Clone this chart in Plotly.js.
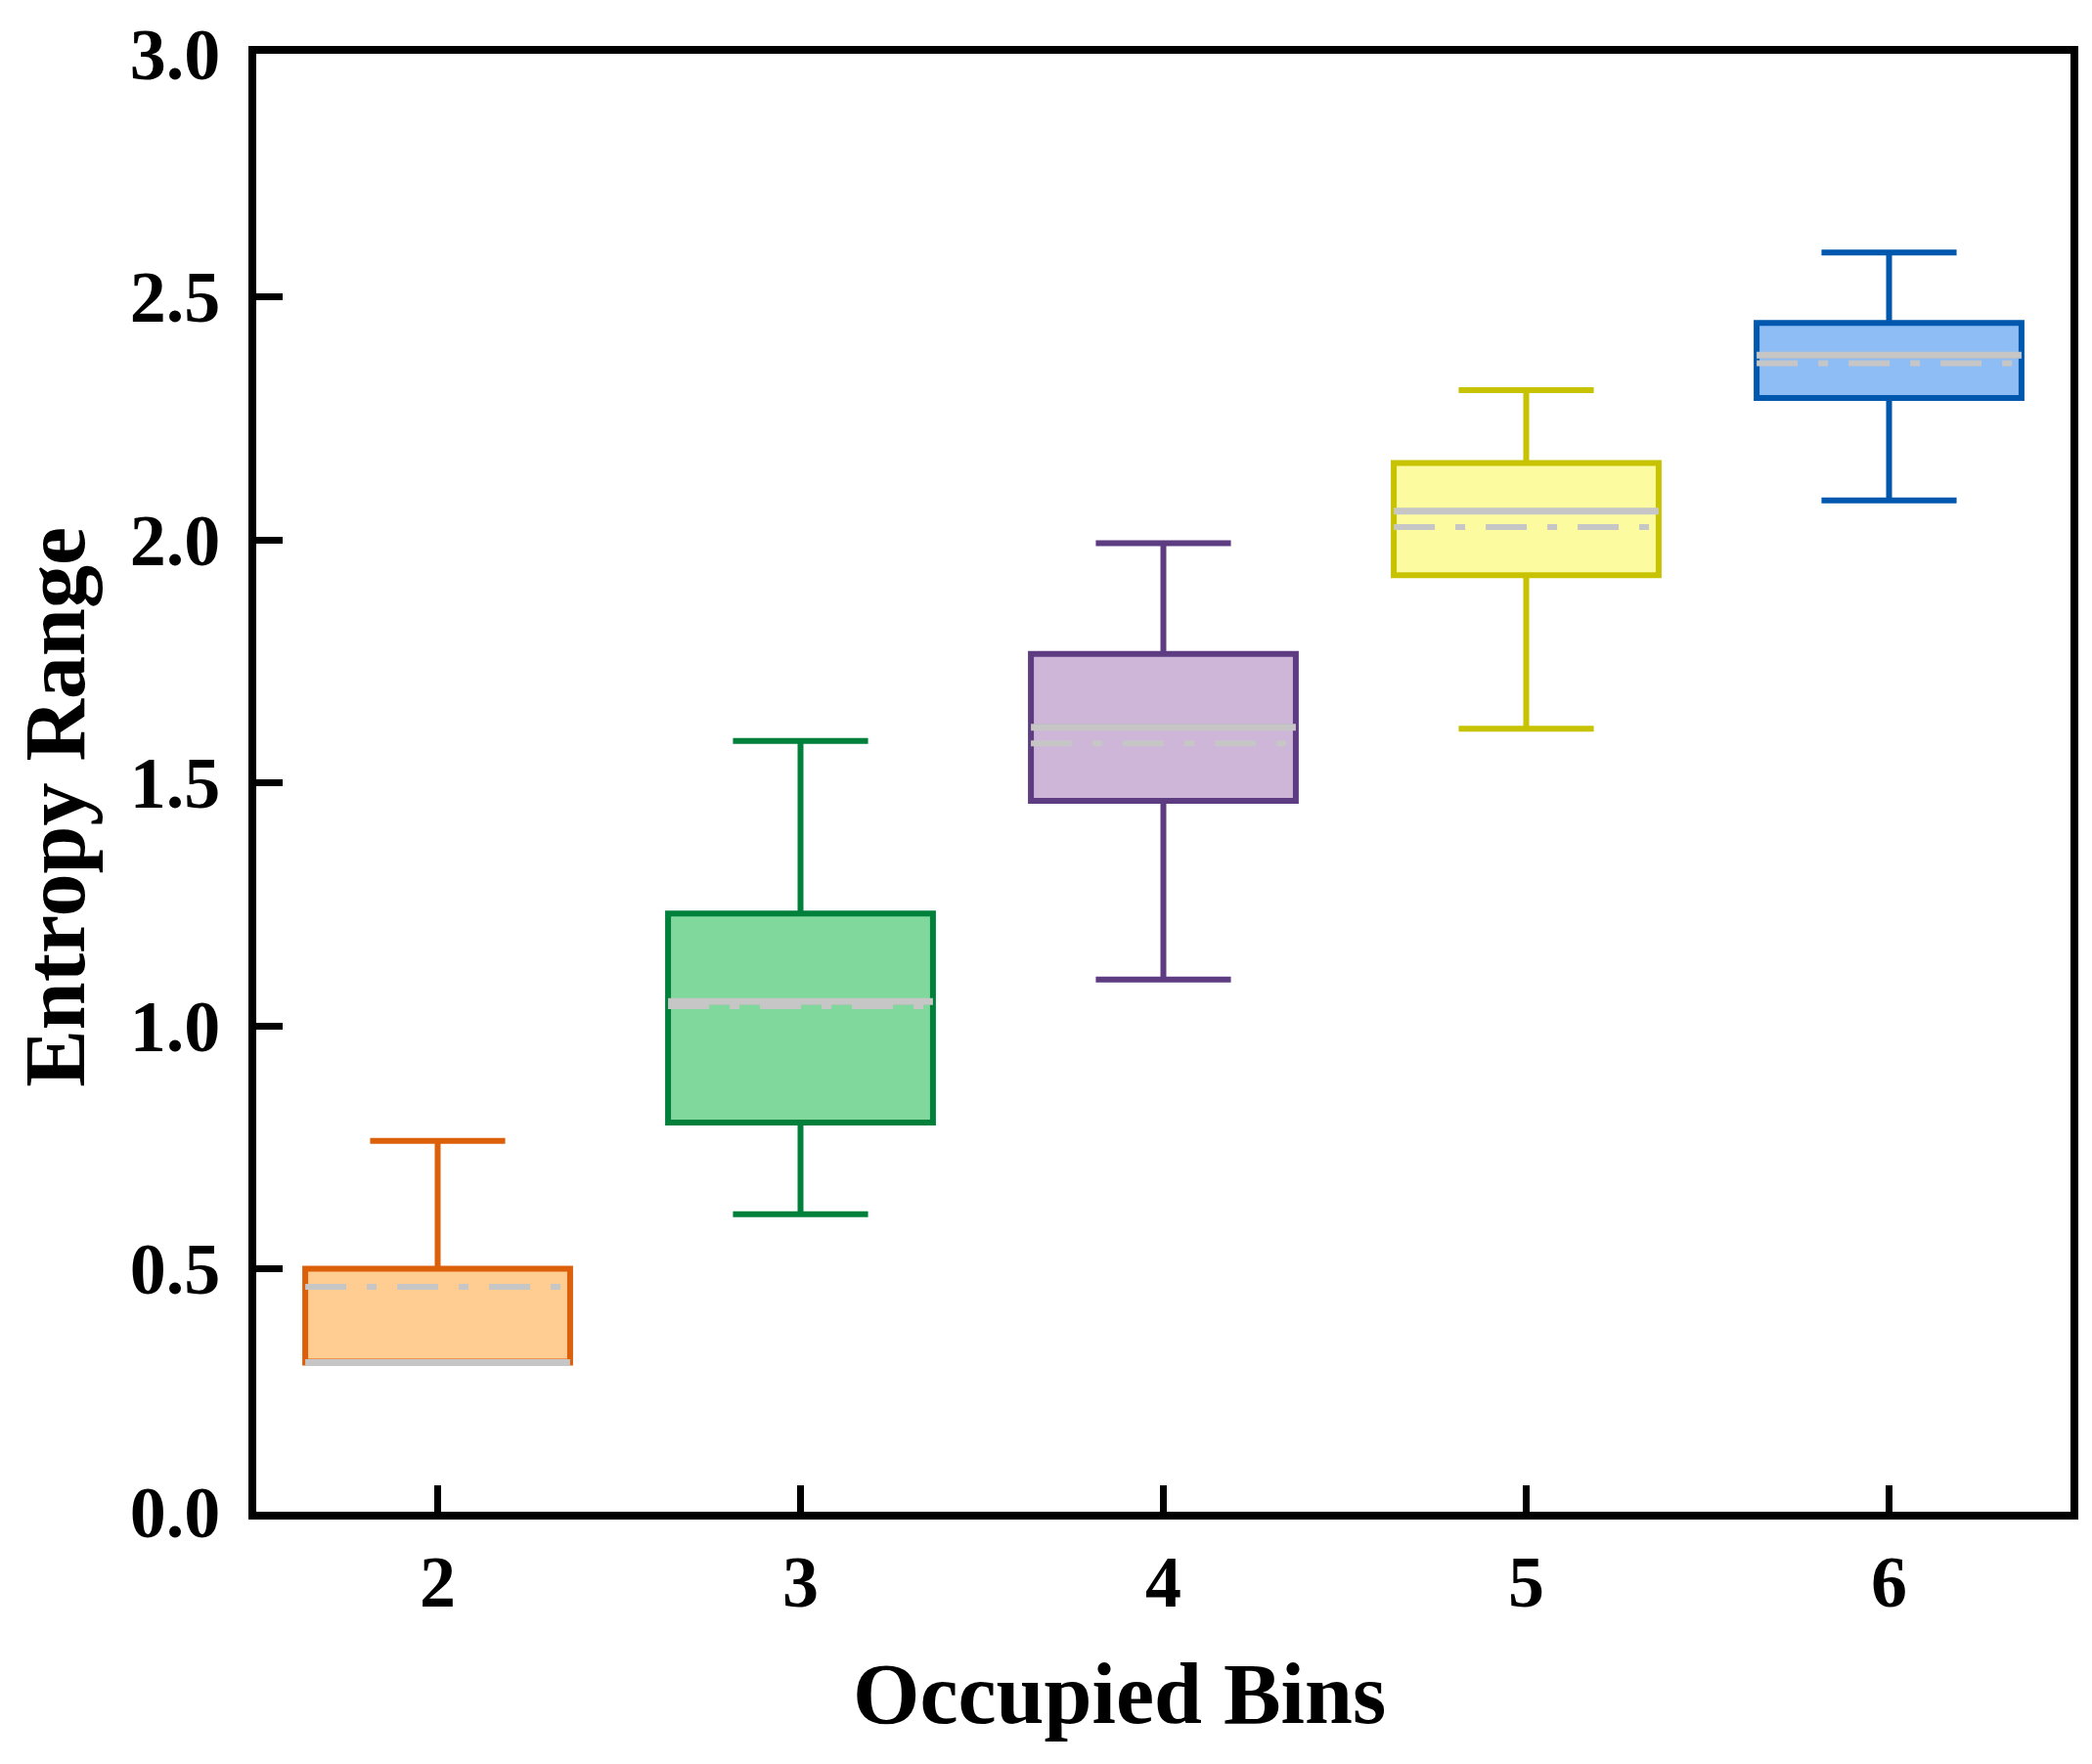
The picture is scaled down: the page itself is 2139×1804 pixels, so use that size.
<!DOCTYPE html>
<html>
<head>
<meta charset="utf-8">
<script src="https://cdn.plot.ly/plotly-3.0.1.min.js"></script>
<style>
  html, body { margin: 0; padding: 0; background: #fff; }
  #chart { width: 2139px; height: 1804px; }
</style>
</head>
<body>
<div id="chart"></div>
<script>
// occupied bins on the x axis
const bins = [2, 3, 4, 5, 6];

// box statistics
const lowerWhisker = [0.307, 0.612, 1.095, 1.611, 2.081];
const q1Values     = [0.307, 0.801, 1.463, 1.927, 2.292];
const medians      = [0.307, 1.050, 1.614, 2.059, 2.380];
const q3Values     = [0.500, 1.231, 1.765, 2.158, 2.446];
const upperWhisker = [0.763, 1.586, 1.993, 2.308, 2.591];
const means        = [0.463, 1.040, 1.581, 2.026, 2.363];

const yTicks = [0, 0.5, 1.0, 1.5, 2.0, 2.5, 3.0];

const lineColors = ['#DC5F0A', '#00803A', '#5E3C82', '#C8C300', '#0057AE'];
const fillColors = ['#FFCD92', '#80D89C', '#CEB6D9', '#FDFBA0', '#8EBDF6'];
const grey = '#C6C6C6';

const boxWidth = 0.73;
const half = boxWidth / 2;
const font = 'Liberation Serif, Times New Roman, serif';

let traces = [];

for (let i = 0; i < bins.length; i++) {
    traces.push({
        type: 'box',
        x: [bins[i]],
        q1: [q1Values[i]],
        median: [medians[i]],
        q3: [q3Values[i]],
        lowerfence: [lowerWhisker[i]],
        upperfence: [upperWhisker[i]],
        width: boxWidth,
        whiskerwidth: 0.51,
        fillcolor: fillColors[i],
        line: {color: lineColors[i], width: 6},
        hoverinfo: 'skip',
        showlegend: false
    });
}

// grey median lines (solid) and mean lines (dash-dot) on top of boxes
for (let i = 0; i < bins.length; i++) {
    traces.push({
        type: 'scatter',
        mode: 'lines',
        x: [bins[i] - half, bins[i] + half],
        y: [medians[i], medians[i]],
        line: {color: grey, width: 7},
        hoverinfo: 'skip',
        showlegend: false
    });
    traces.push({
        type: 'scatter',
        mode: 'lines',
        x: [bins[i] - half, bins[i] + half],
        y: [means[i], means[i]],
        line: {color: grey, width: 6, dash: '42px,21px,10px,21px'},
        hoverinfo: 'skip',
        showlegend: false
    });
}

let layout = {
    width: 2139,
    height: 1804,
    margin: {l: 262, r: 22, t: 55, b: 258},
    paper_bgcolor: '#fff',
    plot_bgcolor: '#fff',
    font: {family: font, color: '#000', size: 72},
    xaxis: {
        range: [1.5, 6.5],
        tickvals: bins,
        ticktext: bins.map(String),
        ticks: 'inside',
        ticklen: 27,
        tickwidth: 7,
        tickcolor: '#000',
        showline: true,
        linecolor: '#000',
        linewidth: 8,
        mirror: true,
        showgrid: false,
        zeroline: false,
        tickfont: {family: font, size: 74, weight: 'bold'},
        ticklabelstandoff: 0
    },
    yaxis: {
        range: [0, 3],
        tickvals: yTicks,
        tickformat: '.1f',
        ticks: 'inside',
        ticklen: 27,
        tickwidth: 7,
        tickcolor: '#000',
        showline: true,
        linecolor: '#000',
        linewidth: 8,
        mirror: true,
        showgrid: false,
        zeroline: false,
        tickfont: {family: font, size: 74, weight: 'bold'},
        ticklabelstandoff: 14
    },
    annotations: [
        {
            text: 'Occupied Bins',
            xref: 'paper', yref: 'paper',
            x: 0.476, y: 0,
            xanchor: 'center', yanchor: 'middle',
            yshift: -186,
            showarrow: false,
            font: {family: font, size: 88, weight: 'bold', color: '#000'}
        },
        {
            text: 'Entropy Range',
            xref: 'paper', yref: 'paper',
            x: 0, y: 0.483,
            xanchor: 'center', yanchor: 'middle',
            xshift: -205,
            textangle: -90,
            showarrow: false,
            font: {family: font, size: 88, weight: 'bold', color: '#000'}
        }
    ]
};

Plotly.newPlot('chart', traces, layout, {displayModeBar: false, staticPlot: true});
</script>
</body>
</html>
